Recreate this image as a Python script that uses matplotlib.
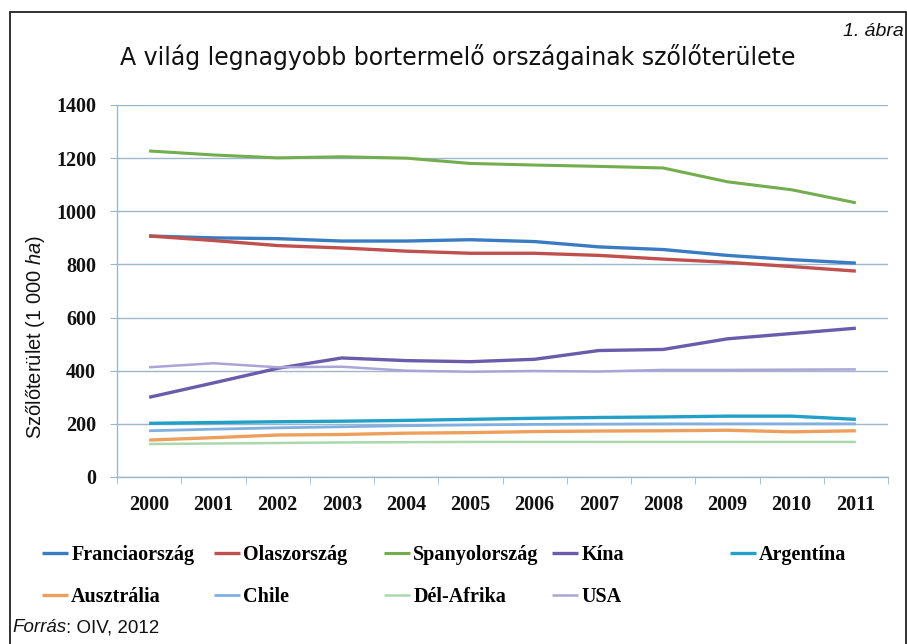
import matplotlib
matplotlib.use("Agg")
import matplotlib.pyplot as plt
from matplotlib.patches import Rectangle

plt.rcParams['mathtext.fontset'] = 'custom'
plt.rcParams['mathtext.rm'] = 'Liberation Sans'
plt.rcParams['mathtext.it'] = 'Liberation Sans:italic'

years = ["2000", "2001", "2002", "2003", "2004", "2005",
         "2006", "2007", "2008", "2009", "2010", "2011"]

franciaorszag = [907, 900, 897, 888, 888, 893, 886, 866, 856, 834, 818, 805]
olaszorszag = [907, 890, 871, 862, 850, 842, 842, 834, 820, 808, 792, 775]
spanyolorszag = [1227, 1212, 1201, 1205, 1200, 1180, 1174, 1169, 1163, 1111, 1081, 1032]
kina = [300, 354, 409, 448, 438, 434, 443, 476, 480, 520, 540, 560]
argentina = [202, 205, 208, 210, 213, 217, 221, 224, 226, 229, 229, 217]
ausztralia = [139, 148, 158, 160, 165, 167, 171, 173, 174, 176, 170, 174]
chile = [174, 180, 185, 189, 193, 196, 198, 199, 200, 200, 200, 200]
del_afrika = [124, 126, 128, 130, 131, 132, 132, 132, 132, 132, 132, 132]
usa = [413, 428, 413, 415, 400, 396, 399, 397, 403, 403, 404, 405]

series_names = ["Franciaország", "Olaszország", "Spanyolország", "Kína", "Argentína",
                "Ausztrália", "Chile", "Dél-Afrika", "USA"]
series_values = [franciaorszag, olaszorszag, spanyolorszag, kina, argentina,
                 ausztralia, chile, del_afrika, usa]
series_colors = ["#3a7cc2", "#c0504d", "#72ad4e", "#6a5cab", "#22a0c8",
                 "#eda05e", "#80b0e0", "#a9d9aa", "#aba4d6"]
series_widths = [2.4, 2.4, 2.2, 2.4, 2.4, 2.4, 2.0, 1.8, 1.8]

yticks = [0, 200, 400, 600, 800, 1000, 1200, 1400]

W, H = 907, 644
fig = plt.figure(figsize=(W / 100, H / 100), dpi=100)
fig.patch.set_facecolor("white")

# outer frame
fig.patches.append(Rectangle((10 / W, -0.01), (906 - 10) / W, (644 - 12) / H + 0.01,
                             transform=fig.transFigure, fill=False, edgecolor="#222222",
                             linewidth=1.3, clip_on=False))

ax_l, ax_r, ax_t, ax_b = 117, 888, 105, 477
ax = fig.add_axes([ax_l / W, 1 - ax_b / H, (ax_r - ax_l) / W, (ax_b - ax_t) / H])

x = list(range(len(years)))
lines = []
for name, vals, col, lw in zip(series_names, series_values, series_colors, series_widths):
    ln, = ax.plot(x, vals, color=col, lw=lw, label=name, solid_capstyle="butt", zorder=3)
    lines.append(ln)

grid_col = "#9db7cb"
tick_font = dict(fontfamily="Liberation Serif", fontweight="bold", fontsize=14.5,
                 color="#111111")
ax.set_xlim(-0.5, len(years) - 0.5)
ax.set_ylim(0, 1400)
ax.set_yticks(yticks)
ax.set_yticklabels([str(v) for v in yticks], **tick_font)
ax.set_xticks(x)
ax.set_xticklabels(years, **tick_font)
ax.set_xticks([i - 0.5 for i in range(len(years) + 1)], minor=True)
ax.tick_params(axis="x", which="major", length=0, pad=13)
ax.tick_params(axis="x", which="minor", length=5, color=grid_col, direction="out")
ax.tick_params(axis="y", length=5, color=grid_col, pad=10)
ax.yaxis.grid(True, color=grid_col, lw=1.0)
ax.set_axisbelow(True)
for s in ["top", "right"]:
    ax.spines[s].set_visible(False)
for s in ["left", "bottom"]:
    ax.spines[s].set_color(grid_col)
    ax.spines[s].set_linewidth(1.0)

ax.set_ylabel(r"Szőlőterület (1 000 $\mathit{ha}$)", fontfamily="Liberation Sans",
              fontsize=14.5, color="#111111")
ax.yaxis.set_label_coords((47 - ax_l) / (ax_r - ax_l), 0.377)

# title and labels
fig.text(0.505, 1 - 57 / H, "A világ legnagyobb bortermelő országainak szőlőterülete",
         ha="center", va="center", fontsize=17, fontfamily="DejaVu Sans", color="#111111")
fig.text(904 / W, 1 - 31 / H, "1. ábra", ha="right", va="center", fontsize=14,
         style="italic", fontfamily="Liberation Sans", color="#111111")

t1 = fig.text(12 / W, 1 - 628 / H, "Forrás", ha="left", va="center", fontsize=13.5,
              style="italic", fontfamily="Liberation Sans", color="#111111")
plt.annotate(": OIV, 2012", xy=(1, 0), xycoords=t1, va="bottom", ha="left",
             fontsize=13.5, fontfamily="Liberation Sans", color="#111111")

# legend: one small legend per entry, laid out in rows like the original
col_x = [42, 214, 384, 552, 730]
row_y = [555, 597]
rows = [[0, 1, 2, 3, 4], [5, 6, 7, 8]]
for r, idxs in enumerate(rows):
    for c, idx in enumerate(idxs):
        fig.legend([lines[idx]], [series_names[idx]], loc="center left",
                   bbox_to_anchor=(col_x[c] / W, 1 - row_y[r] / H),
                   frameon=False, handlelength=1.3, handletextpad=0.15,
                   borderpad=0, borderaxespad=0,
                   prop={"family": "Liberation Serif", "weight": "bold", "size": 14.5})

fig.savefig("out.png", dpi=100, facecolor="white")
